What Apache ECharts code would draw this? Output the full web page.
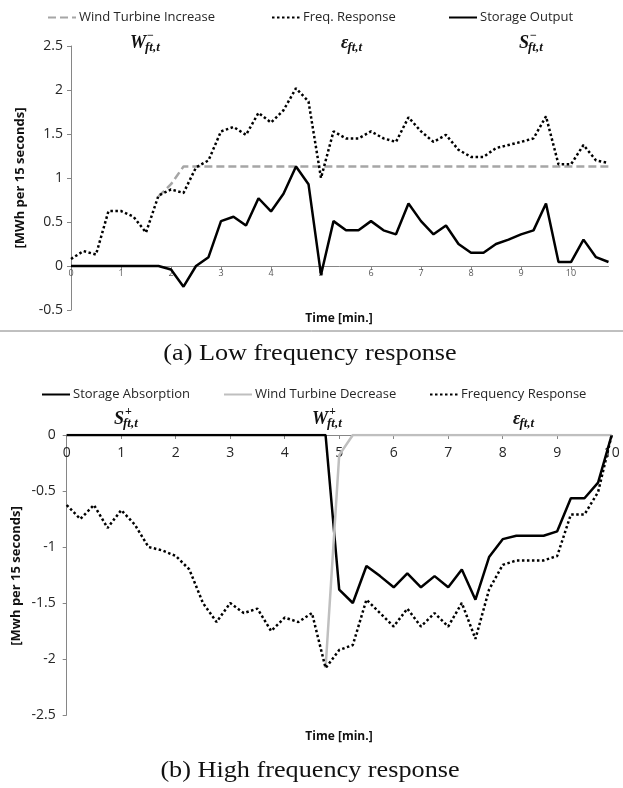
<!DOCTYPE html>
<html><head><meta charset="utf-8">
<script src="https://cdn.jsdelivr.net/npm/echarts@6/dist/echarts.min.js"></script>
<style>html,body{margin:0;padding:0;background:#fff}#c{width:623px;height:788px}</style>
</head><body><div id="c"></div>
<script>
// ---------- (a) Low frequency response ----------
const timeLow = [0,0.25,0.5,0.75,1,1.25,1.5,1.75,2,2.25,2.5,2.75,3,3.25,3.5,3.75,4,4.25,4.5,4.75,5,5.25,5.5,5.75,6,6.25,6.5,6.75,7,7.25,7.5,7.75,8,8.25,8.5,8.75,9,9.25,9.5,9.75,10,10.25,10.5,10.75];
const windIncrease = [null,null,null,null,null,null,null,0.79,0.93,1.13,1.13,1.13,1.13,1.13,1.13,1.13,1.13,1.13,1.13,1.13,1.13,1.13,1.13,1.13,1.13,1.13,1.13,1.13,1.13,1.13,1.13,1.13,1.13,1.13,1.13,1.13,1.13,1.13,1.13,1.13,1.13,1.13,1.13,1.13];
const freqLow = [0.08,0.17,0.13,0.625,0.625,0.56,0.38,0.80,0.87,0.83,1.12,1.20,1.53,1.58,1.49,1.74,1.63,1.77,2.02,1.87,1.00,1.53,1.45,1.45,1.53,1.45,1.41,1.69,1.53,1.41,1.49,1.32,1.24,1.24,1.34,1.375,1.41,1.45,1.70,1.155,1.155,1.375,1.20,1.17];
const storageOutput = [0,0,0,0,0,0,0,0,-0.04,-0.235,0,0.10,0.51,0.56,0.46,0.77,0.62,0.82,1.13,0.93,-0.10,0.51,0.405,0.405,0.51,0.405,0.36,0.71,0.51,0.36,0.46,0.25,0.15,0.15,0.25,0.30,0.36,0.405,0.71,0.045,0.045,0.30,0.10,0.045];
const xTicksLow = [0,1,2,3,4,5,6,7,8,9,10];

// ---------- (b) High frequency response ----------
const timeHigh = [0,0.25,0.5,0.75,1,1.25,1.5,1.75,2,2.25,2.5,2.75,3,3.25,3.5,3.75,4,4.25,4.5,4.75,5,5.25,5.5,5.75,6,6.25,6.5,6.75,7,7.25,7.5,7.75,8,8.25,8.5,8.75,9,9.25,9.5,9.75,10];
const storageAbsorption = [0,0,0,0,0,0,0,0,0,0,0,0,0,0,0,0,0,0,0,0,-1.38,-1.5,-1.17,-1.26,-1.36,-1.235,-1.36,-1.26,-1.36,-1.2,-1.47,-1.09,-0.93,-0.9,-0.9,-0.9,-0.86,-0.565,-0.565,-0.425,0];
const windDecrease = [null,null,null,null,null,null,null,null,null,null,null,null,null,null,null,null,null,null,null,-2.08,-0.18,0,0,0,0,0,0,0,0,0,0,0,0,0,0,0,0,0,0,0,0];
const freqHigh = [-0.625,-0.75,-0.625,-0.83,-0.67,-0.80,-1.0,-1.03,-1.08,-1.2,-1.5,-1.67,-1.5,-1.59,-1.55,-1.75,-1.63,-1.67,-1.59,-2.08,-1.92,-1.875,-1.47,-1.59,-1.71,-1.55,-1.71,-1.59,-1.71,-1.5,-1.82,-1.38,-1.16,-1.12,-1.12,-1.12,-1.08,-0.71,-0.71,-0.51,0];

const legendLow = ['Wind Turbine Increase','Freq. Response','Storage Output'];
const legendHigh = ['Storage Absorption','Wind Turbine Decrease','Frequency Response'];
const captionLow = '(a) Low frequency response';
const captionHigh = '(b) High frequency response';

function pairs(ts, vs){ return ts.map((t,i)=>[t, vs[i]]).filter(p=>p[1]!==null); }

const AX = '#868686';
const SANS = '"Open Sans", "Liberation Sans", sans-serif';
const MATH = '"Liberation Serif", serif';
const MAIN_FONT = 'bold italic 18px ' + MATH;

const mctx = document.createElement('canvas').getContext('2d');
function textW(t, font){ mctx.font = font; return mctx.measureText(t).width; }

function legendAt(name, left, top){
  return {data:[name], left:left, top:top, itemWidth:28, itemHeight:12, itemGap:0, padding:0,
    itemStyle:{opacity:0},
    textStyle:{fontFamily:SANS, fontSize:13, color:'#262626', padding:[0,0,0,-2]}, selectedMode:false};
}

function mathLabel(main, sup, sub, x, y){
  const w = textW(main, MAIN_FONT);
  return [
    {type:'text', x:x, y:y, style:{text:main, font:MAIN_FONT, fill:'#111', textVerticalAlign:'middle'}},
    {type:'text', x:x+w+1, y:y-7, style:{text:sup, font:'bold 12px '+MATH, fill:'#111', textVerticalAlign:'middle'}},
    {type:'text', x:x+w-1, y:y+5, style:{text:sub, font:'bold italic 13px '+MATH, fill:'#111', textVerticalAlign:'middle'}}
  ];
}

const chart = echarts.init(document.getElementById('c'), null, {renderer:'canvas'});
chart.setOption({
  animation:false,
  backgroundColor:'#fff',
  legend:[
    legendAt(legendLow[0], 47, 11), legendAt(legendLow[1], 271, 11), legendAt(legendLow[2], 448, 11),
    legendAt(legendHigh[0], 41, 388), legendAt(legendHigh[1], 223, 388), legendAt(legendHigh[2], 429, 388)
  ],
  grid:[
    {left:71, top:46, width:537.5, height:264},
    {left:66.7, top:435, width:545, height:280}
  ],
  xAxis:[
    {type:'value', gridIndex:0, min:0, max:10.75, position:'bottom', offset:-44,
      axisLine:{show:true, onZero:false, lineStyle:{color:AX, width:1}},
      axisTick:{show:true, customValues:xTicksLow, length:4, lineStyle:{color:AX}},
      axisLabel:{customValues:xTicksLow, fontFamily:SANS, fontSize:9, color:'#595959', margin:3},
      splitLine:{show:false}},
    {type:'value', gridIndex:1, min:0, max:10, interval:1, position:'top',
      axisLine:{show:true, onZero:false, lineStyle:{color:AX, width:1}},
      axisTick:{show:true, inside:true, length:4, lineStyle:{color:AX}},
      axisLabel:{inside:true, fontFamily:SANS, fontSize:14, color:'#262626', margin:11},
      splitLine:{show:false}}
  ],
  yAxis:[
    {type:'value', gridIndex:0, min:-0.5, max:2.5, interval:0.5,
      axisLine:{show:true, lineStyle:{color:AX, width:1}},
      axisTick:{show:true, length:4, lineStyle:{color:AX}},
      axisLabel:{fontFamily:SANS, fontSize:14, color:'#262626', margin:8},
      splitLine:{show:false}},
    {type:'value', gridIndex:1, min:-2.5, max:0, interval:0.5,
      axisLine:{show:true, lineStyle:{color:AX, width:1}},
      axisTick:{show:true, length:4, lineStyle:{color:AX}},
      axisLabel:{fontFamily:SANS, fontSize:14, color:'#262626', margin:11},
      splitLine:{show:false}}
  ],
  series:[
    {name:legendLow[0], type:'line', xAxisIndex:0, yAxisIndex:0, symbol:'none', data:pairs(timeLow, windIncrease),
      lineStyle:{color:'#a6a6a6', width:2.5, type:[8,4]}, itemStyle:{color:'#a6a6a6'}},
    {name:legendLow[1], type:'line', xAxisIndex:0, yAxisIndex:0, symbol:'none', data:pairs(timeLow, freqLow),
      lineStyle:{color:'#000', width:2.5, type:[2.5,2.5]}, itemStyle:{color:'#000'}},
    {name:legendLow[2], type:'line', xAxisIndex:0, yAxisIndex:0, symbol:'none', data:pairs(timeLow, storageOutput),
      lineStyle:{color:'#000', width:2.5}, itemStyle:{color:'#000'}},
    {name:legendHigh[0], type:'line', xAxisIndex:1, yAxisIndex:1, symbol:'none', data:pairs(timeHigh, storageAbsorption),
      lineStyle:{color:'#000', width:2.5}, itemStyle:{color:'#000'}},
    {name:legendHigh[1], type:'line', xAxisIndex:1, yAxisIndex:1, symbol:'none', data:pairs(timeHigh, windDecrease),
      lineStyle:{color:'#bfbfbf', width:2.5}, itemStyle:{color:'#bfbfbf'}},
    {name:legendHigh[2], type:'line', xAxisIndex:1, yAxisIndex:1, symbol:'none', data:pairs(timeHigh, freqHigh),
      lineStyle:{color:'#000', width:2.5, type:[2.5,2.5]}, itemStyle:{color:'#000'}}
  ],
  graphic:[
    {type:'line', shape:{x1:0, y1:331, x2:623, y2:331}, style:{stroke:'#808080', lineWidth:1}},
    {type:'text', x:310, y:354, scaleX:1.14, style:{text:captionLow, font:'23px "Liberation Serif", serif', fill:'#111', textAlign:'center', textVerticalAlign:'middle'}},
    {type:'text', x:310, y:771, scaleX:1.14, style:{text:captionHigh, font:'23px "Liberation Serif", serif', fill:'#111', textAlign:'center', textVerticalAlign:'middle'}},
    {type:'text', x:339, y:319, style:{text:'Time [min.]', font:'bold 12px '+SANS, fill:'#111', textAlign:'center', textVerticalAlign:'middle'}},
    {type:'text', x:339, y:737, style:{text:'Time [min.]', font:'bold 12px '+SANS, fill:'#111', textAlign:'center', textVerticalAlign:'middle'}},
    {type:'text', x:20, y:178, rotation:Math.PI/2, style:{text:'[MWh per 15 seconds]', font:'bold 13px '+SANS, fill:'#111', textAlign:'center', textVerticalAlign:'middle'}},
    {type:'text', x:16, y:576, rotation:Math.PI/2, style:{text:'[Mwh per 15 seconds]', font:'bold 13px '+SANS, fill:'#111', textAlign:'center', textVerticalAlign:'middle'}},
    ...mathLabel('W','\u2212','ft,t',130,43),
    ...mathLabel('\u03b5','','ft,t',341,43),
    ...mathLabel('S','\u2212','ft,t',519,43),
    ...mathLabel('S','+','ft,t',114,419),
    ...mathLabel('W','+','ft,t',312,419),
    ...mathLabel('\u03b5','','ft,t',513,419)
  ]
});
</script></body></html>
